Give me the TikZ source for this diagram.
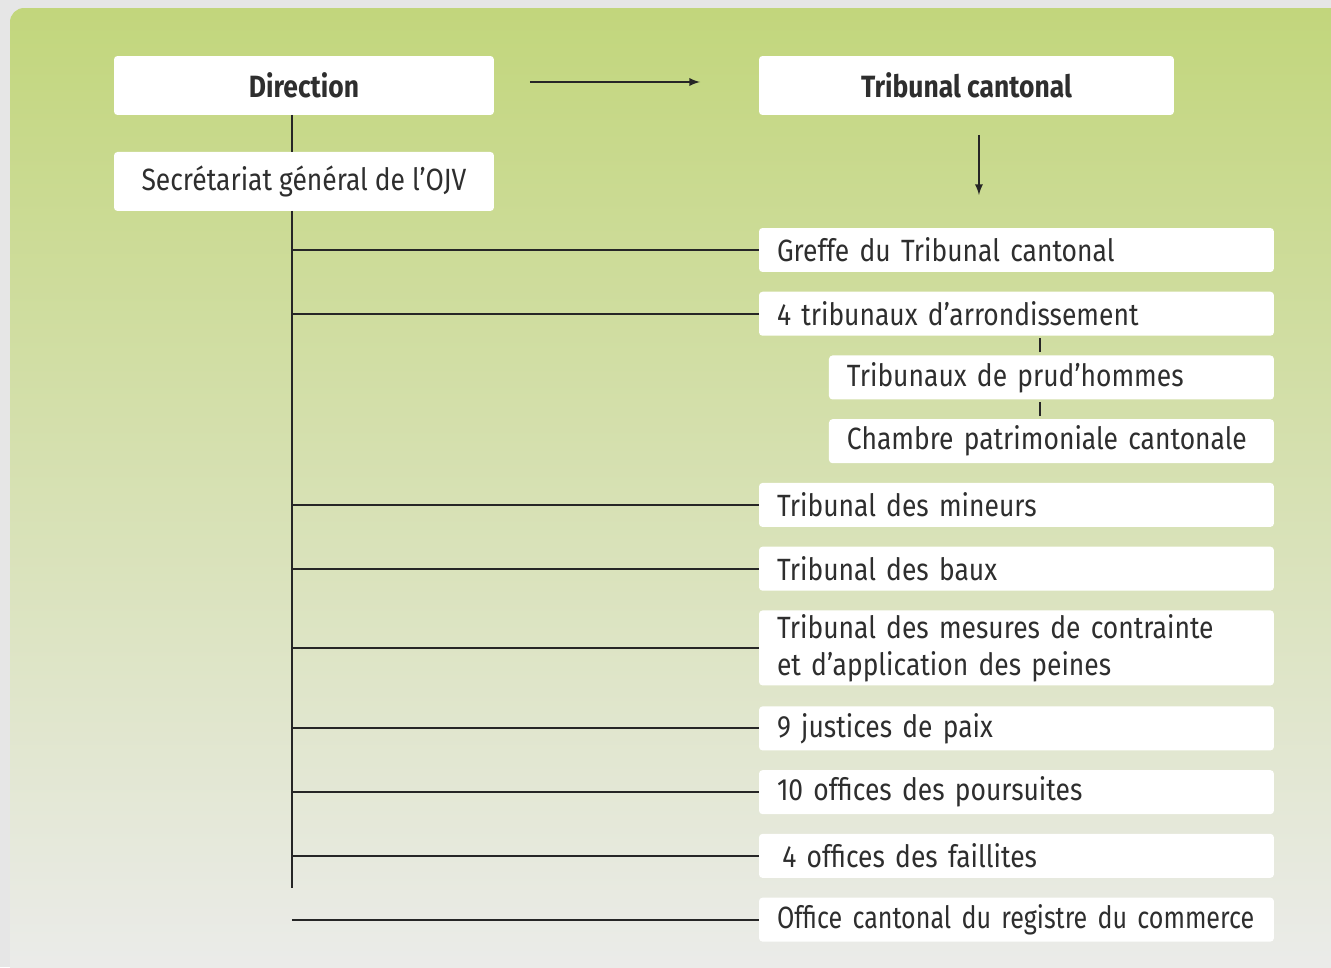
\documentclass[tikz,border=0pt]{standalone}
\usepackage{fontspec}
\setmainfont{Fira Sans}[FakeStretch=0.86]
\newfontfamily\narrowfont{Fira Sans}[FakeStretch=0.815]
\usepackage{tikz}
\usetikzlibrary{arrows,positioning}
\definecolor{panelgreen}{RGB}{194,214,124}
\definecolor{panelgray}{RGB}{236,236,236}
\definecolor{framegray}{RGB}{230,230,230}

\begin{document}
\begin{tikzpicture}[
    x=0.02cm, y=-0.02cm,
    node distance=0.395cm,
    >=latex,
    font=\fontsize{17.5}{21}\selectfont,
    unit/.style={
		rectangle,
		rounded corners=2pt,
		fill=white,
		text=black!82,
		outer sep=0pt,
		inner xsep=0.36cm,
		inner ysep=0pt,
		text width=9.58cm,
		align=left,
		minimum height=0.88cm
	},
	subunit/.style={
		unit,
		text width=8.18cm
	},
	head/.style={
		rectangle,
		rounded corners=2pt,
		fill=white,
		text=black!82,
		outer sep=0pt,
		font=\fontsize{17.5}{21}\selectfont\bfseries,
		minimum height=1.18cm,
		anchor=north west
	},
	link/.style={
		draw=black!85,
		line width=1.1pt
	}
  ]
    % background panel
 \useasboundingbox [fill=framegray] (0,0) rectangle (1331,967);
 \shade [top color=panelgreen, bottom color=panelgray, rounded corners=8pt]
   (10,8) rectangle (1360,990);

    % head of the organisation
 \node [head, minimum width=7.6cm] (direction) at (114,56) {Direction};
 \node [head, minimum width=8.3cm] (cantonal) at (759,56) {Tribunal cantonal};
 \node [head, font=\fontsize{17.5}{21}\selectfont, below=0.74cm of direction, minimum width=7.6cm] (secretariat)
 {Secrétariat général de l'OJV};

    % the right column
 \node [unit, anchor=north west] (greffe) at (759,228) {Greffe du Tribunal cantonal};
 \node [unit, below=of greffe] (tri4) {4 tribunaux d'arrondissement};
 \node [subunit, below=of tri4.south east, anchor=north east] (prud) {Tribunaux de prud'hommes};
 \node [subunit, below=of prud] (chambre) {Chambre patrimoniale cantonale};
 \node [unit, below=of chambre.south east, anchor=north east] (mineurs) {Tribunal des mineurs};
 \node [unit, below=of mineurs] (baux) {Tribunal des baux};
 \node [unit, below=of baux, minimum height=1.5cm] (mesures)
 {Tribunal des mesures de contrainte\\et d'application des peines};
 \node [unit, below=0.42cm of mesures] (justices) {9 justices de paix};
 \node [unit, below=of justices] (poursuites) {10 offices des poursuites};
 \node [unit, below=of poursuites] (faillites) {\hspace{3pt}4 offices des faillites};
 \node [unit, below=of faillites] (registre) {\narrowfont Office cantonal du registre du commerce};

    % connectors
 \draw [link,->, shorten <=0.72cm, shorten >=1.18cm] ([yshift=0.07cm]direction.east) -- ([yshift=0.07cm]cantonal.west);
 \draw [link,->, shorten <=0.4cm, shorten >=0.66cm] ([xshift=0.25cm]cantonal.south) -- ++(0,113);
 \draw [link] ([xshift=-0.24cm]direction.south) -- ([xshift=-0.24cm]secretariat.north);
 \coordinate (trunk) at ([xshift=-0.24cm]secretariat.south);
 \path (trunk |- faillites.south) ++(0,10) coordinate (trunkend);
 \draw [link] (trunk) -- (trunkend);
 \foreach \n in {greffe, tri4, mineurs, baux, mesures, justices, poursuites, faillites}
   \draw [link] (\n.west -| trunk) -- (\n.west);
 \draw [link] (registre.west -| trunk) -- (registre.west);
 \draw [link, line width=0.9pt] ([xshift=-0.23cm, yshift=0.06cm]prud.north) -- ++(0,-14);
 \draw [link, line width=0.9pt] ([xshift=-0.23cm, yshift=0.06cm]chambre.north) -- ++(0,-14);

\end{tikzpicture}
\end{document}
